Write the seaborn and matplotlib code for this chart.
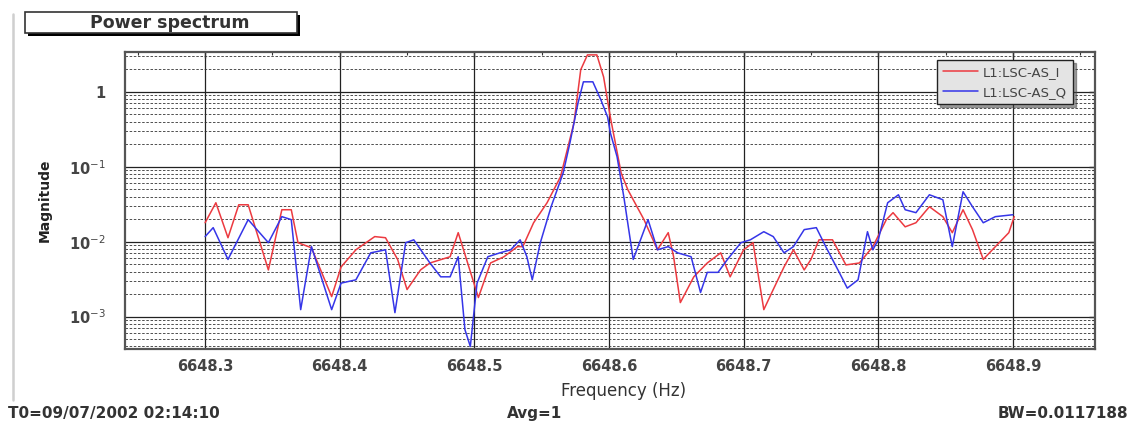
import numpy as np
import pandas as pd
import matplotlib
matplotlib.use("Agg")
import matplotlib.pyplot as plt
import seaborn as sns
from matplotlib.patches import Rectangle
from matplotlib.lines import Line2D
from matplotlib.ticker import LogLocator, FixedLocator, FixedFormatter, MultipleLocator, NullFormatter

# ---------------- data ----------------
series_names = ["L1:LSC-AS_I", "L1:LSC-AS_Q"]

freq_i = [6648.300, 6648.308, 6648.317, 6648.325, 6648.332, 6648.347, 6648.357, 6648.364,
          6648.369, 6648.379, 6648.394, 6648.401, 6648.412, 6648.426, 6648.434, 6648.443,
          6648.450, 6648.460, 6648.467, 6648.482, 6648.488, 6648.495, 6648.503, 6648.512,
          6648.522, 6648.532, 6648.536, 6648.544, 6648.554, 6648.564, 6648.574, 6648.579,
          6648.584, 6648.591, 6648.596, 6648.601, 6648.609, 6648.614, 6648.618, 6648.626,
          6648.636, 6648.644, 6648.648, 6648.653, 6648.663, 6648.673, 6648.683, 6648.690,
          6648.700, 6648.707, 6648.715, 6648.722, 6648.730, 6648.737, 6648.745, 6648.750,
          6648.756, 6648.766, 6648.776, 6648.786, 6648.796, 6648.806, 6648.811, 6648.820,
          6648.828, 6648.838, 6648.848, 6648.855, 6648.863, 6648.870, 6648.878, 6648.887,
          6648.897, 6648.901]
mag_i = [0.0179, 0.0331, 0.0113, 0.0311, 0.0311, 0.0042, 0.0267, 0.0267,
         0.0097, 0.0083, 0.00185, 0.0046, 0.0078, 0.0117, 0.0113, 0.0058,
         0.0023, 0.0042, 0.0052, 0.0063, 0.0132, 0.0052, 0.0018, 0.0052,
         0.0063, 0.0086, 0.0086, 0.0179, 0.0331, 0.0736, 0.386, 1.97,
         3.11, 3.11, 1.58, 0.46, 0.083, 0.0494, 0.0363, 0.0197,
         0.0078, 0.0132, 0.0063, 0.00154, 0.0034, 0.0052, 0.0071, 0.0034,
         0.0078, 0.0097, 0.00124, 0.0023, 0.0046, 0.0078, 0.0042, 0.0058,
         0.0106, 0.0106, 0.0049, 0.0052, 0.0086, 0.0197, 0.0244, 0.0158,
         0.0179, 0.0293, 0.0216, 0.0132, 0.0267, 0.0145, 0.0058, 0.0086,
         0.0132, 0.0216]

freq_q = [6648.300, 6648.306, 6648.317, 6648.332, 6648.347, 6648.357, 6648.364, 6648.371,
          6648.379, 6648.394, 6648.401, 6648.412, 6648.423, 6648.434, 6648.441, 6648.449,
          6648.455, 6648.467, 6648.475, 6648.482, 6648.488, 6648.493, 6648.497, 6648.502,
          6648.510, 6648.519, 6648.527, 6648.534, 6648.539, 6648.543, 6648.549, 6648.557,
          6648.566, 6648.571, 6648.577, 6648.581, 6648.588, 6648.594, 6648.599, 6648.601,
          6648.606, 6648.611, 6648.618, 6648.629, 6648.636, 6648.644, 6648.651, 6648.661,
          6648.668, 6648.673, 6648.681, 6648.688, 6648.698, 6648.705, 6648.715, 6648.722,
          6648.730, 6648.737, 6648.745, 6648.754, 6648.761, 6648.771, 6648.777, 6648.785,
          6648.792, 6648.796, 6648.800, 6648.807, 6648.815, 6648.820, 6648.828, 6648.838,
          6648.848, 6648.855, 6648.863, 6648.870, 6648.878, 6648.887, 6648.900]
mag_q = [0.0117, 0.0154, 0.0058, 0.0197, 0.0097, 0.0216, 0.0197, 0.00124,
         0.0086, 0.00124, 0.0028, 0.0031, 0.0071, 0.0078, 0.00113, 0.0097,
         0.0106, 0.0052, 0.0034, 0.0034, 0.0063, 0.00067, 0.0004, 0.0028,
         0.0063, 0.0071, 0.0078, 0.0106, 0.0063, 0.0031, 0.0097, 0.0293,
         0.083, 0.209, 0.71, 1.36, 1.36, 0.78, 0.46, 0.284,
         0.136, 0.0398, 0.0058, 0.0197, 0.0078, 0.0086, 0.0071, 0.0063,
         0.0021, 0.0039, 0.0039, 0.0058, 0.0097, 0.0106, 0.0136, 0.0117,
         0.0071, 0.0086, 0.0145, 0.0154, 0.0086, 0.0039, 0.0024, 0.0031,
         0.0136, 0.0078, 0.0106, 0.0331, 0.0423, 0.0267, 0.0244, 0.0423,
         0.0363, 0.0086, 0.0464, 0.0293, 0.0179, 0.0216, 0.0229]

x_ticks = [6648.3, 6648.4, 6648.5, 6648.6, 6648.7, 6648.8, 6648.9]
x_tick_labels = ["6648.3", "6648.4", "6648.5", "6648.6", "6648.7", "6648.8", "6648.9"]
y_ticks = [1e-3, 1e-2, 1e-1, 1.0]
y_tick_labels = ["10$^{-3}$", "10$^{-2}$", "10$^{-1}$", "1"]

title_text = "Power spectrum"
x_label = "Frequency (Hz)"
y_label = "Magnitude"
footer_left = "T0=09/07/2002 02:14:10"
footer_mid = "Avg=1"
footer_right = "BW=0.0117188"

# ---------------- figure ----------------
sns.set_theme(style="white")
plt.rcParams['font.family'] = ['DejaVu Sans']

W, H = 1131, 423
fig = plt.figure(figsize=(W / 100, H / 100), dpi=100)
fig.patch.set_facecolor("white")

ax_l, ax_r, ax_t, ax_b = 125, 1095, 52, 349
ax = fig.add_axes([ax_l / W, 1 - ax_b / H, (ax_r - ax_l) / W, (ax_b - ax_t) / H])

df = pd.concat([
    pd.DataFrame({"freq": freq_i, "mag": mag_i, "series": series_names[0]}),
    pd.DataFrame({"freq": freq_q, "mag": mag_q, "series": series_names[1]}),
], ignore_index=True)

palette = {series_names[0]: "#ec3a40", series_names[1]: "#3535e8"}
sns.lineplot(data=df, x="freq", y="mag", hue="series", palette=palette,
             estimator=None, sort=False, linewidth=1.1, ax=ax, legend=False)

ax.set_yscale("log")
ax.set_xlim(6648.2405, 6648.961)
ax.set_ylim(3.7e-4, 3.4)

ax.xaxis.set_major_locator(FixedLocator(x_ticks))
ax.xaxis.set_major_formatter(FixedFormatter(x_tick_labels))
ax.xaxis.set_minor_locator(MultipleLocator(0.05))
ax.yaxis.set_major_locator(FixedLocator(y_ticks))
ax.yaxis.set_major_formatter(FixedFormatter(y_tick_labels))
ax.yaxis.set_minor_locator(LogLocator(base=10, subs=np.arange(2, 10)))
ax.yaxis.set_minor_formatter(NullFormatter())

ax.grid(which="major", axis="both", color="#222222", linewidth=0.9, linestyle="-")
ax.yaxis.grid(which="minor", color="#333333", linewidth=0.6, linestyle=(0, (3, 2)))
ax.set_axisbelow(True)

ax.tick_params(which="both", direction="in", top=True, right=True, colors="#333333")
ax.tick_params(which="major", length=4, width=1.0, labelsize=10.5)
ax.tick_params(axis="x", which="major", pad=7)
ax.tick_params(axis="y", which="major", pad=14)
ax.tick_params(which="minor", length=2, width=0.8)
for lab in ax.get_xticklabels() + ax.get_yticklabels():
    lab.set_fontweight("bold")
    lab.set_color("#444444")

for s in ax.spines.values():
    s.set_color("#555555")
    s.set_linewidth(1.6)

ax.set_xlabel(x_label, fontsize=12, color="#333333")
ax.set_ylabel(y_label, fontsize=10, fontweight="bold", color="#222222")
ax.xaxis.set_label_coords(0.514, -(382 - ax_b) / (ax_b - ax_t))
ax.yaxis.set_label_coords(-(ax_l - 52) / (ax_r - ax_l), 0.5)

# legend
handles = [Line2D([0], [0], color=palette[n], lw=1.1) for n in series_names]
leg = ax.legend(handles, series_names, loc="upper right",
                bbox_to_anchor=((1073 - ax_l) / (ax_r - ax_l), 1 - (60 - ax_t) / (ax_b - ax_t)),
                borderaxespad=0, fontsize=9.5, frameon=True, fancybox=False, shadow=True,
                framealpha=1, facecolor="#e4e4e4", edgecolor="#222222",
                handlelength=2.6, handletextpad=0.4, labelspacing=0.5, borderpad=0.45)
for t in leg.get_texts():
    t.set_color("#444444")

# title box with shadow
bx0, bx1, by0, by1 = 25, 297, 12, 33
fig.add_artist(Rectangle(((bx0 + 3) / W, 1 - (by1 + 3) / H), (bx1 - bx0) / W, (by1 - by0) / H,
                         transform=fig.transFigure, facecolor="black", edgecolor="black", lw=0))
fig.add_artist(Rectangle((bx0 / W, 1 - by1 / H), (bx1 - bx0) / W, (by1 - by0) / H,
                         transform=fig.transFigure, facecolor="white", edgecolor="#333333", lw=1.2))
fig.text(170 / W, 1 - 22.5 / H, title_text, ha="center", va="center",
         fontsize=12.5, fontweight="bold", color="#333333")

# panel left rule
fig.add_artist(Line2D([13 / W, 13 / W], [1 - 14 / H, 1 - 400 / H], transform=fig.transFigure,
                      color="#cfcfcf", lw=1.8))

# footer texts
fig.text(8 / W, 1 - 413 / H, footer_left, ha="left", va="center", fontsize=11, fontweight="bold", color="#333333")
fig.text(535 / W, 1 - 413 / H, footer_mid, ha="center", va="center", fontsize=11, fontweight="bold", color="#333333")
fig.text(1128 / W, 1 - 413 / H, footer_right, ha="right", va="center", fontsize=11, fontweight="bold", color="#333333")

fig.savefig("out.png", dpi=100, facecolor="white")
